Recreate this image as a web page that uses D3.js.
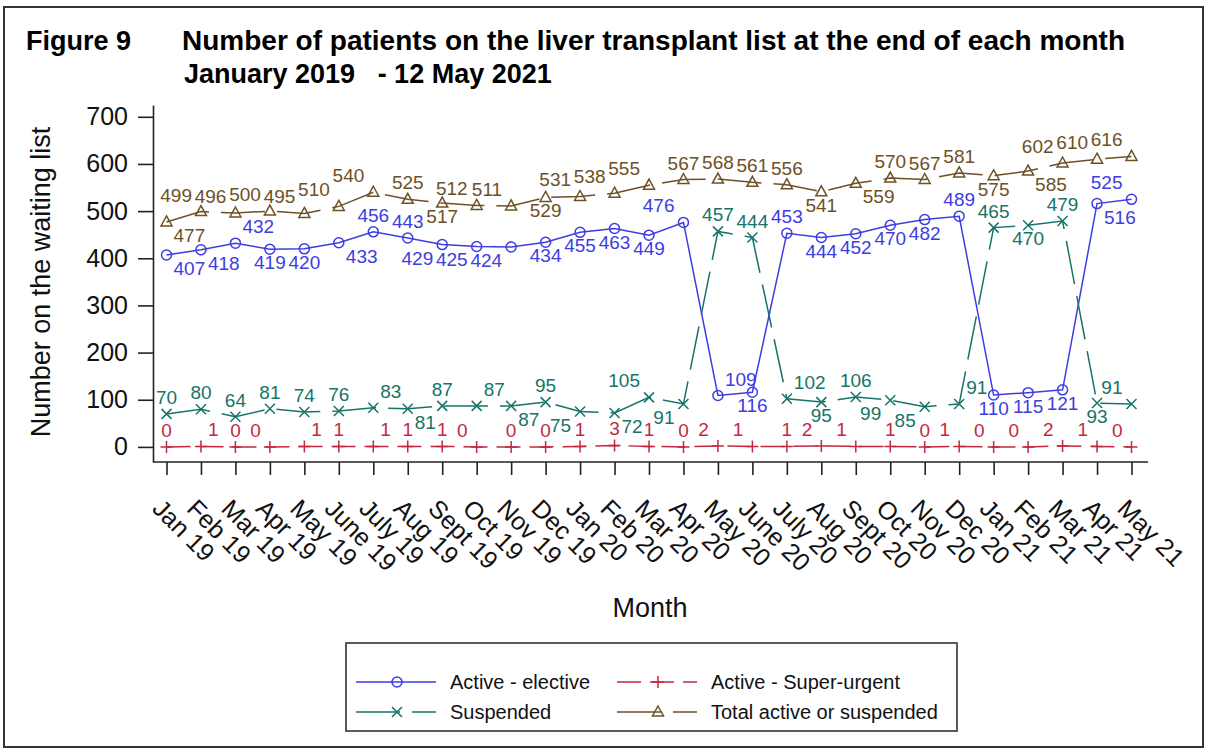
<!DOCTYPE html>
<html>
<head>
<meta charset="utf-8">
<script src="https://cdn.jsdelivr.net/npm/d3@7"></script>
<style>
body { margin: 0; background: #fff; }
text { font-family: "Liberation Sans", Arial, sans-serif; }
</style>
</head>
<body>
<svg id="chart" width="1207" height="753"></svg>
<script>
//Month categories
var months = ["Jan 19","Feb 19","Mar 19","Apr 19","May 19","June 19","July 19","Aug 19","Sept 19","Oct 19","Nov 19","Dec 19",
	"Jan 20","Feb 20","Mar 20","Apr 20","May 20","June 20","July 20","Aug 20","Sept 20","Oct 20","Nov 20","Dec 20",
	"Jan 21","Feb 21","Mar 21","Apr 21","May 21"];

//Series values
var activeElective = [407,418,432,419,420,433,456,443,429,425,424,434,455,463,449,476,109,116,453,444,452,470,482,489,110,115,121,516,525];
var superUrgent = [0,1,0,0,1,1,1,1,1,0,0,0,1,3,1,0,2,1,1,2,1,1,0,1,0,0,2,1,0];
var suspended = [70,80,64,81,74,76,83,81,87,87,87,95,75,72,105,91,457,444,102,95,106,99,85,91,465,470,479,93,91];
var totalList = [477,499,496,500,495,510,540,525,517,512,511,529,531,538,555,567,568,561,556,541,559,570,567,581,575,585,602,610,616];

var yTicks = [0,100,200,300,400,500,600,700];

//Where each data label sits relative to its point (t top, b bottom, l left, r right)
var activePos = ["br","br","tr","b","b","br","t","t","bl","bl","bl","b","b","b","b","tl","tr","b","t","b","b","b","b","t","b","b","b","br","tl"];
var urgentPos = ["t","tr","t","tl","tr","t","tr","t","t","tl","t","t","t","t","t","t","tl","tl","t","tl","tl","t","t","tl","tl","tl","tl","tl","tl"];
var suspPos = ["t","t","t","t","t","t","tr","br","t","tr","br","t","bl","br","tl","bl","t","t","tr","b","t","bl","bl","tr","t","b","t","b","tl"];
var totalPos = ["br","tl","tl","tl","tl","tl","tl","t","b","tl","tl","b","tl","tl","tl","t","t","t","t","b","br","t","t","t","b","br","tl","tl","tl"];

var series = [
	{ name: "Active - elective", values: activeElective, pos: activePos, color: "#3d3de3", dash: null, marker: "circle" },
	{ name: "Active - Super-urgent", values: superUrgent, pos: urgentPos, color: "#c4283f", dash: "24,9", marker: "plus" },
	{ name: "Suspended", values: suspended, pos: suspPos, color: "#167469", dash: "44,12", marker: "times" },
	{ name: "Total active or suspended", values: totalList, pos: totalPos, color: "#6e5026", dash: "44,12", marker: "triangle" }
];

var svg = d3.select("#chart");

//Outer frame
svg.append("rect")
	.attr("x", 4).attr("y", 7)
	.attr("width", 1199).attr("height", 740)
	.attr("fill", "none").attr("stroke", "#333").attr("stroke-width", 2);

//Titles
svg.append("text").attr("x", 26).attr("y", 50)
	.attr("font-size", 27).attr("font-weight", "bold")
	.text("Figure 9");
svg.append("text").attr("x", 182).attr("y", 50)
	.attr("font-size", 27).attr("font-weight", "bold")
	.attr("textLength", 943).attr("lengthAdjust", "spacingAndGlyphs")
	.text("Number of patients on the liver transplant list at the end of each month");
svg.append("text").attr("x", 184).attr("y", 83)
	.attr("font-size", 27).attr("font-weight", "bold")
	.style("white-space", "pre")
	.text("January 2019   - 12 May 2021");

//Scales
var x = d3.scalePoint().domain(months).range([166.5, 1131.5]);
var y = d3.scaleLinear().domain([-32, 725]).range([462, 105]);

//Y axis
var yAxis = svg.append("g")
	.attr("transform", "translate(153,0)")
	.call(d3.axisLeft(y).tickValues(yTicks).tickSize(15).tickSizeOuter(0).tickPadding(10));
yAxis.selectAll("text").attr("font-size", 25).attr("fill", "#111")
	.style("font-family", "'Liberation Sans', Arial, sans-serif");
yAxis.selectAll("line, path").attr("stroke", "#222").attr("stroke-width", 1.6);

//X axis
var xAxis = svg.append("g")
	.attr("transform", "translate(0,462)")
	.call(d3.axisBottom(x).tickSize(13).tickSizeOuter(0));
xAxis.select(".domain").remove();
xAxis.selectAll("line").attr("stroke", "#222").attr("stroke-width", 1.6);
xAxis.selectAll("text")
	.attr("font-size", 25).attr("fill", "#111")
	.style("font-family", "'Liberation Sans', Arial, sans-serif")
	.attr("text-anchor", "start")
	.attr("y", 0).attr("dy", 0)
	.attr("transform", "translate(-16,48) rotate(45)");
svg.append("line")
	.attr("x1", 153).attr("x2", 1148)
	.attr("y1", 462).attr("y2", 462)
	.attr("stroke", "#222").attr("stroke-width", 1.6);

//Axis labels
svg.append("text")
	.attr("transform", "translate(50,282) rotate(-90)")
	.attr("text-anchor", "middle").attr("font-size", 27).attr("fill", "#111")
	.text("Number on the waiting list");
svg.append("text")
	.attr("x", 650).attr("y", 617)
	.attr("text-anchor", "middle").attr("font-size", 27).attr("fill", "#111")
	.text("Month");

//Marker drawing
function drawMarker(g, type, cx, cy, color) {
	if (type == "circle") {
		g.append("circle").attr("cx", cx).attr("cy", cy).attr("r", 5)
			.attr("fill", "none").attr("stroke", color).attr("stroke-width", 1.5);
	}
	else if (type == "plus") {
		g.append("path").attr("d", "M" + (cx - 6) + "," + cy + "h12M" + cx + "," + (cy - 6) + "v12")
			.attr("fill", "none").attr("stroke", color).attr("stroke-width", 1.5);
	}
	else if (type == "times") {
		g.append("path").attr("d", "M" + (cx - 5) + "," + (cy - 5) + "l10,10M" + (cx + 5) + "," + (cy - 5) + "l-10,10")
			.attr("fill", "none").attr("stroke", color).attr("stroke-width", 1.5);
	}
	else if (type == "triangle") {
		g.append("path").attr("d", "M" + cx + "," + (cy - 6) + "L" + (cx + 5.5) + "," + (cy + 4) + "L" + (cx - 5.5) + "," + (cy + 4) + "Z")
			.attr("fill", "none").attr("stroke", color).attr("stroke-width", 1.5);
	}
}

var line = d3.line()
	.x(function(d, i) { return x(months[i]); })
	.y(function(d) { return y(d); });

//Lines, markers and data labels
series.forEach(function(s) {
	var g = svg.append("g");
	g.append("path")
		.datum(s.values)
		.attr("d", line)
		.attr("fill", "none")
		.attr("stroke", s.color)
		.attr("stroke-width", 1.5)
		.attr("stroke-dasharray", s.dash);

	s.values.forEach(function(v, i) {
		drawMarker(g, s.marker, x(months[i]), y(v), s.color);
	});

	g.selectAll("text.lab")
		.data(s.values)
		.enter().append("text")
		.attr("class", "lab")
		.attr("font-size", 19)
		.attr("fill", s.color)
		.attr("x", function(d, i) {
			var p = s.pos[i], px = x(months[i]);
			if (p.indexOf("l") > 0) return px - 9;
			if (p.indexOf("r") > 0) return px + 7;
			return px;
		})
		.attr("y", function(d, i) {
			return s.pos[i].charAt(0) == "t" ? y(d) - 10 : y(d) + 20;
		})
		.attr("text-anchor", function(d, i) {
			var p = s.pos[i];
			if (p.indexOf("l") > 0) return "end";
			if (p.indexOf("r") > 0) return "start";
			return "middle";
		})
		.text(function(d) { return d; });
});

//Legend
var legend = svg.append("g");
legend.append("rect")
	.attr("x", 346).attr("y", 643)
	.attr("width", 611).attr("height", 88)
	.attr("fill", "none").attr("stroke", "#333").attr("stroke-width", 1.6);

var legendCols = [356, 617];
var legendRows = [689, 719];
series.forEach(function(s, i) {
	var lx = legendCols[i % 2];
	var ly = legendRows[Math.floor(i / 2)];
	legend.append("line")
		.attr("x1", lx).attr("x2", lx + 80)
		.attr("y1", ly - 7).attr("y2", ly - 7)
		.attr("stroke", s.color).attr("stroke-width", 1.5)
		.attr("stroke-dasharray", s.dash);
	drawMarker(legend, s.marker, lx + 41, ly - 7, s.color);
	legend.append("text")
		.attr("x", lx + 94).attr("y", ly)
		.attr("font-size", 20).attr("fill", "#111")
		.text(s.name);
});
</script>
</body>
</html>
